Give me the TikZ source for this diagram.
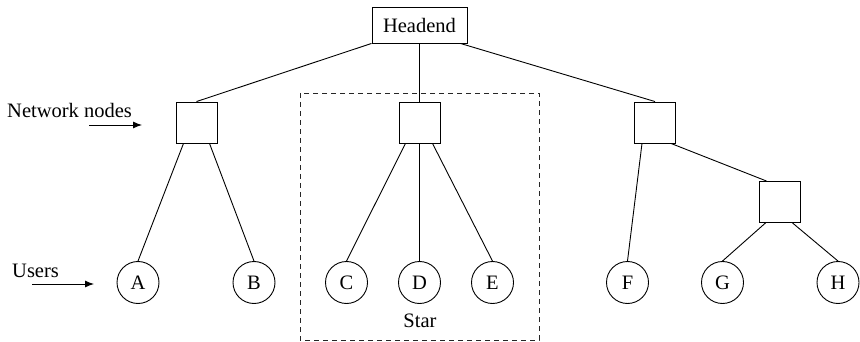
\documentclass[tikz,border=0pt]{standalone}
\usepackage{fontspec}
\setmainfont{Liberation Serif}
\usetikzlibrary{calc,arrows.meta}
\begin{document}
\begin{tikzpicture}[x=1pt,y=-1pt,
  every node/.style={font=\fontsize{20.5}{24}\selectfont},
  conn/.style={line width=0.9pt},
  netbox/.style={draw,line width=0.9pt,minimum width=41pt,minimum height=41pt,inner sep=0pt},
  user/.style={draw,circle,line width=0.9pt,minimum size=42pt,inner sep=0pt},
  hbox/.style={draw,line width=0.9pt,minimum width=95pt,minimum height=36pt,inner sep=0pt},
  lbl/.style={anchor=west,inner sep=0pt},
  pointer/.style={line width=0.9pt,-{Latex[length=9pt,width=7pt]}}]
\useasboundingbox (0,0) rectangle (860,342);
% star region
\draw[line width=0.9pt,dash pattern=on 5pt off 4pt,black!85] (300,93) rectangle (539,340);
\node (star) at (420,321) {Star};
% nodes
\node[hbox] (he) at (419.5,25) {Headend};
\node[netbox] (n1) at (196.5,122.5) {};
\node[netbox] (n2) at (419.5,122.5) {};
\node[netbox] (n3) at (655,122.5) {};
\node[netbox] (n4) at (779.5,202) {};
\node[user] (A) at (138,282.5) {A};
\node[user] (B) at (254,282.5) {B};
\node[user] (C) at (346.5,282.5) {C};
\node[user] (D) at (419.5,282.5) {D};
\node[user] (E) at (492.5,282.5) {E};
\node[user] (F) at (627.5,282.5) {F};
\node[user] (G) at (722.5,282.5) {G};
\node[user] (H) at (838,282.5) {H};
% labels
\node[lbl] (netlbl) at (7,110) {Network nodes};
\coordinate (netarrS) at (89,125);
\coordinate (netarrE) at (142,125);
\draw[pointer] (netarrS) -- (netarrE);
\node[lbl] (uslbl) at (12,271) {Users};
\coordinate (usarrS) at (32,284);
\coordinate (usarrE) at (94,284);
\draw[pointer] (usarrS) -- (usarrE);
% connectors
\draw[conn] (he.south west) -- (n1.north);
\draw[conn] (he.south) -- (n2.north);
\draw[conn] ($(he.south east)+(-7,0)$) -- (n3.north);
\draw[conn] ($(n1.south)+(-13,0)$) -- (A.north);
\draw[conn] ($(n1.south)+(13,0)$) -- (B.north);
\draw[conn] ($(n2.south)+(-14,0)$) -- (C.north);
\draw[conn] (n2.south) -- (D.north);
\draw[conn] ($(n2.south)+(13,0)$) -- (E.north);
\draw[conn] ($(n3.south)+(-13,0)$) -- (F.north);
\draw[conn] ($(n3.south)+(16,0)$) -- ($(n4.north west)+(8,0)$);
\draw[conn] ($(n4.south)+(-14,0)$) -- (G.north);
\draw[conn] ($(n4.south)+(13,0)$) -- (H.north);
\end{tikzpicture}
\end{document}
